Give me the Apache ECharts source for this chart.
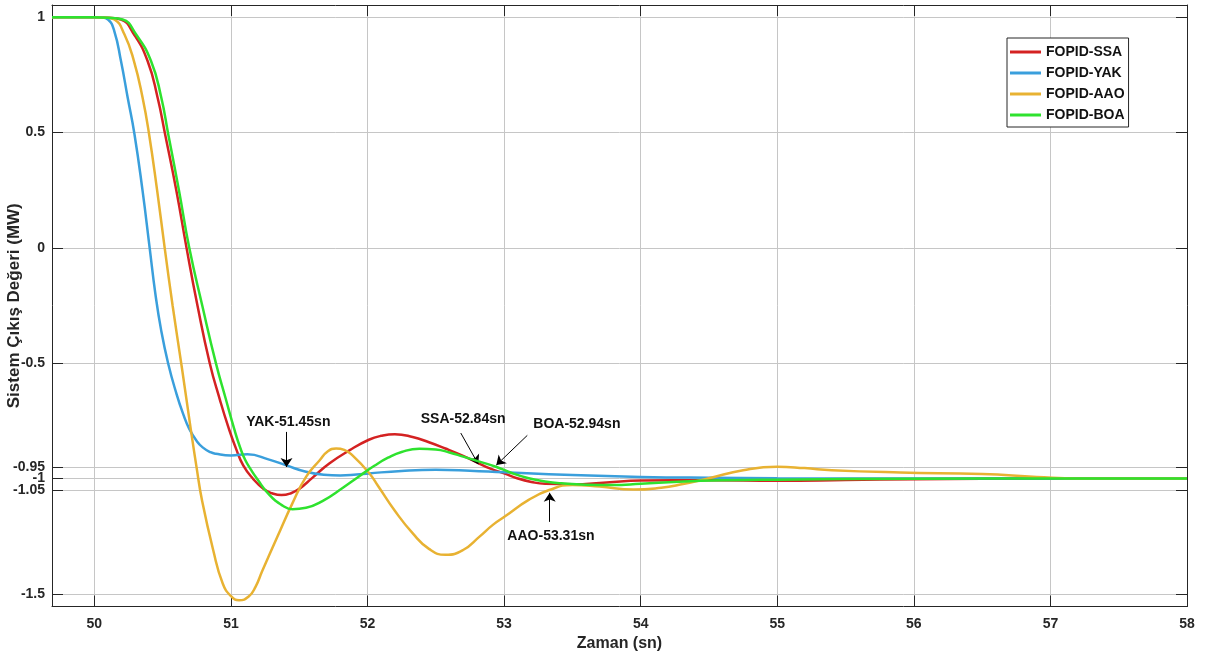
<!DOCTYPE html>
<html><head><meta charset="utf-8">
<script src="https://cdn.jsdelivr.net/npm/echarts@6/dist/echarts.min.js"></script>
<style>html,body{margin:0;padding:0;background:#fff}#c{width:1205px;height:653px}</style>
</head><body><div id="c"></div>
<script>
const xTicks = [50, 51, 52, 53, 54, 55, 56, 57, 58];
const yTicks = [-1.5, -1.05, -1, -0.95, -0.5, 0, 0.5, 1];
const seriesNames = ['FOPID-SSA', 'FOPID-YAK', 'FOPID-AAO', 'FOPID-BOA'];
const seriesColors = ['#d42222', '#3a9fdc', '#e8b232', '#2ee22e'];

const ssaT = [49.69,50.0,50.1,50.195,50.29,50.39,50.463,50.517,50.6,50.675,50.755,50.845,50.92,50.98,51.04,51.09,51.16,51.24,51.3,51.37,51.44,51.5,51.6,51.72,51.87,52.01,52.1,52.2,52.33,52.45,52.57,52.7,52.8,52.9,53.0,53.1,53.2,53.3,53.5,53.75,54.0,54.5,55.0,55.5,56.0,57.0,58.0];
const ssaY = [1,1,0.998,0.99,0.926,0.81,0.652,0.496,0.25,0,-0.25,-0.5,-0.66,-0.775,-0.875,-0.943,-1.0,-1.046,-1.064,-1.072,-1.064,-1.045,-0.995,-0.935,-0.877,-0.832,-0.815,-0.808,-0.82,-0.843,-0.87,-0.902,-0.93,-0.957,-0.978,-1.0,-1.015,-1.023,-1.025,-1.017,-1.009,-1.008,-1.01,-1.007,-1.003,-1,-1];

const yakT = [49.69,50.0,50.05,50.1,50.146,50.195,50.244,50.293,50.353,50.405,50.447,50.49,50.54,50.6,50.65,50.695,50.75,50.793,50.85,50.89,51.0,51.12,51.28,51.4,51.55,51.68,51.8,51.92,52.01,52.25,52.5,52.75,53.0,53.5,54.0,54.5,55.0,56.0,57.0,58.0];
const yakY = [1,1,0.999,0.99,0.94,0.81,0.652,0.496,0.248,0,-0.2,-0.36,-0.5,-0.63,-0.72,-0.785,-0.838,-0.865,-0.886,-0.893,-0.9,-0.895,-0.918,-0.942,-0.971,-0.984,-0.987,-0.983,-0.978,-0.967,-0.962,-0.966,-0.973,-0.985,-0.993,-0.997,-0.999,-1,-1,-1];

const aaoT = [49.69,50.0,50.08,50.146,50.22,50.29,50.353,50.4,50.46,50.515,50.573,50.641,50.707,50.749,50.79,50.87,50.94,51.0,51.06,51.13,51.18,51.23,51.34,51.45,51.55,51.65,51.71,51.77,51.83,51.89,52.01,52.08,52.2,52.33,52.45,52.57,52.7,52.82,52.92,53.01,53.18,53.33,53.5,53.7,53.95,54.15,54.3,54.5,54.75,55.0,55.2,55.4,55.9,56.5,56.9,57.2,58.0];
const aaoY = [1,1,0.998,0.99,0.926,0.81,0.652,0.496,0.248,0,-0.25,-0.52,-0.79,-0.954,-1.1,-1.31,-1.455,-1.51,-1.528,-1.512,-1.47,-1.4,-1.253,-1.108,-0.993,-0.921,-0.882,-0.87,-0.876,-0.9,-0.975,-1.035,-1.14,-1.237,-1.305,-1.331,-1.31,-1.252,-1.2,-1.163,-1.093,-1.05,-1.028,-1.035,-1.048,-1.04,-1.025,-0.999,-0.964,-0.949,-0.955,-0.964,-0.974,-0.981,-0.993,-1,-1];

const boaT = [49.69,50.0,50.1,50.207,50.305,50.415,50.49,50.54,50.62,50.695,50.79,50.89,50.96,51.024,51.07,51.105,51.15,51.19,51.28,51.38,51.45,51.55,51.67,51.82,51.94,52.05,52.15,52.25,52.38,52.5,52.6,52.7,52.82,52.94,53.05,53.18,53.3,53.42,53.6,53.79,54.0,54.28,54.6,55.0,56.0,57.0,58.0];
const boaY = [1,1,0.998,0.99,0.926,0.81,0.652,0.496,0.248,0,-0.25,-0.5,-0.65,-0.785,-0.87,-0.92,-0.965,-1.0,-1.07,-1.118,-1.133,-1.127,-1.098,-1.04,-0.99,-0.945,-0.91,-0.885,-0.871,-0.874,-0.887,-0.905,-0.927,-0.949,-0.975,-0.999,-1.013,-1.021,-1.027,-1.028,-1.023,-1.014,-1.008,-1.005,-1.001,-1,-1];

// annotations: text, label centre, arrow start, arrow tip (data units)
const annotations = [
  { series: 1, text: 'YAK-51.45sn', at: [51.42, -0.754], from: [51.407, -0.798], to: [51.407, -0.95] },
  { series: 0, text: 'SSA-52.84sn', at: [52.70, -0.743], from: [52.683, -0.803], to: [52.811, -0.938] },
  { series: 3, text: 'BOA-52.94sn', at: [53.533, -0.765], from: [53.17, -0.813], to: [52.943, -0.942] },
  { series: 2, text: 'AAO-53.31sn', at: [53.343, -1.25], from: [53.334, -1.188], to: [53.334, -1.062] }
];

const FONT = '"Liberation Sans", Arial, Helvetica, sans-serif';
const AX = '#262626';
const zip = (t, y) => t.map((v, i) => [v, y[i]]);
const allData = [zip(ssaT, ssaY), zip(yakT, yakY), zip(aaoT, aaoY), zip(boaT, boaY)];

const series = seriesNames.map((name, i) => {
  const ann = annotations.filter(a => a.series === i);
  return {
    name, type: 'line', data: allData[i], xAxisIndex: 0, yAxisIndex: 0,
    symbol: 'none', showSymbol: false, smooth: 0.5,
    lineStyle: { width: 2.5, color: seriesColors[i] },
    itemStyle: { color: seriesColors[i] },
    z: 3 + i,
    markLine: {
      silent: true, symbol: ['none', 'arrow'], symbolSize: 9,
      lineStyle: { color: '#000', width: 1, type: 'solid' },
      label: { show: false },
      data: ann.map(a => [{ coord: a.from }, { coord: a.to }])
    },
    markPoint: {
      silent: true, symbol: 'rect', symbolSize: 1,
      itemStyle: { color: 'rgba(0,0,0,0)' },
      label: { show: true, position: 'inside', color: '#111', fontWeight: 'bold', fontSize: 14, fontFamily: FONT, formatter: p => p.name },
      data: ann.map(a => ({ name: a.text, coord: a.at }))
    }
  };
});

const chart = echarts.init(document.getElementById('c'), null, { renderer: 'canvas' });
chart.setOption({
  animation: false,
  backgroundColor: '#fff',
  grid: { left: 52, right: 18, top: 5, bottom: 46.5, containLabel: false, outerBoundsMode: 'none' },
  legend: {
    data: seriesNames, orient: 'vertical', left: 1007, top: 38,
    backgroundColor: '#fff', borderColor: AX, borderWidth: 1,
    padding: [6, 4, 4, 3], itemGap: 5, itemWidth: 31, itemHeight: 3, icon: 'rect',
    textStyle: { fontFamily: FONT, fontWeight: 'bold', fontSize: 14, color: '#111', lineHeight: 16 }
  },
  xAxis: [{
    type: 'value', min: 49.69, max: 58, position: 'bottom',
    name: 'Zaman (sn)', nameLocation: 'middle', nameGap: 29, nameMoveOverlap: false,
    nameTextStyle: { fontFamily: FONT, fontWeight: 'bold', fontSize: 16, color: AX },
    axisLine: { show: true, onZero: false, lineStyle: { color: AX, width: 1 } },
    axisTick: { show: true, inside: true, length: 11, customValues: xTicks, lineStyle: { color: AX } },
    axisLabel: { customValues: xTicks, margin: 11, fontFamily: FONT, fontWeight: 'bold', fontSize: 14, color: AX },
    splitLine: { show: true, lineStyle: { color: '#c6c6c6', width: 1 } }
  }, {
    type: 'value', min: 49.69, max: 58, position: 'top',
    axisLine: { show: true, onZero: false, lineStyle: { color: AX, width: 1 } },
    axisTick: { show: true, inside: true, length: 11, customValues: xTicks, lineStyle: { color: AX } },
    axisLabel: { show: false }, splitLine: { show: false }
  }],
  yAxis: [{
    type: 'value', min: -1.555, max: 1.053, position: 'left',
    name: 'Sistem Çıkış Değeri (MW)', nameLocation: 'middle', nameGap: 29, nameMoveOverlap: false,
    nameTextStyle: { fontFamily: FONT, fontWeight: 'bold', fontSize: 17, color: AX },
    axisLine: { show: true, onZero: false, lineStyle: { color: AX, width: 1 } },
    axisTick: { show: true, inside: true, length: 11, customValues: yTicks, lineStyle: { color: AX } },
    axisLabel: { customValues: yTicks, margin: 7, fontFamily: FONT, fontWeight: 'bold', fontSize: 14, color: AX },
    splitLine: { show: true, lineStyle: { color: '#c6c6c6', width: 1 } }
  }, {
    type: 'value', min: -1.555, max: 1.053, position: 'right',
    axisLine: { show: true, onZero: false, lineStyle: { color: AX, width: 1 } },
    axisTick: { show: true, inside: true, length: 11, customValues: yTicks, lineStyle: { color: AX } },
    axisLabel: { show: false }, splitLine: { show: false }
  }],
  series
});
</script>
</body></html>
